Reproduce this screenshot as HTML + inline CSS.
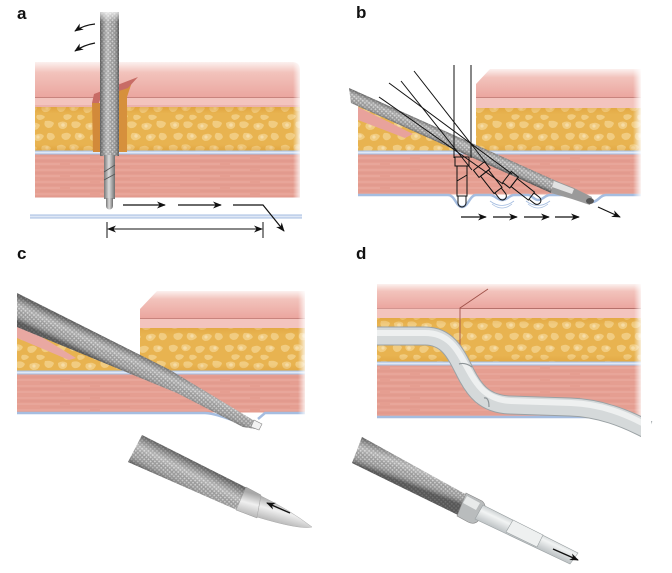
<!DOCTYPE html>
<html><head><meta charset="utf-8"><style>
html,body{margin:0;padding:0;background:#fff;}
svg{display:block;}
text{font-family:"Liberation Sans",Arial,sans-serif;font-weight:bold;fill:#111;}
</style></head><body>
<svg width="672" height="573" viewBox="0 0 672 573" xmlns="http://www.w3.org/2000/svg">
<defs>
<pattern id="fat" width="56" height="40" patternUnits="userSpaceOnUse">
<rect width="56" height="40" fill="#e8b350"/>
<g fill="#f2cf86" opacity="0.9">
<path d="M2,3 Q7,0 11,3 Q12,8 7,9 Q2,9 2,3Z"/>
<path d="M16,2 Q22,0 25,4 Q23,9 18,8 Q14,6 16,2Z"/>
<path d="M30,4 Q36,1 40,5 Q39,10 33,10 Q28,8 30,4Z"/>
<path d="M45,1 Q51,0 54,3 Q53,8 48,8 Q43,6 45,1Z"/>
<path d="M6,14 Q12,11 15,15 Q14,20 9,20 Q4,18 6,14Z"/>
<path d="M20,13 Q27,12 29,17 Q26,21 21,20 Q17,17 20,13Z"/>
<path d="M35,15 Q41,12 44,16 Q42,21 37,21 Q32,19 35,15Z"/>
<path d="M48,13 Q54,12 55,17 Q53,21 49,20 Q45,17 48,13Z"/>
<path d="M1,26 Q6,23 10,27 Q9,32 4,32 Q0,30 1,26Z"/>
<path d="M14,25 Q20,23 23,27 Q21,32 16,31 Q12,29 14,25Z"/>
<path d="M28,27 Q34,24 37,28 Q35,33 30,33 Q26,31 28,27Z"/>
<path d="M42,26 Q48,24 51,28 Q49,33 44,32 Q40,30 42,26Z"/>
<path d="M8,35 Q13,33 16,36 Q14,40 10,40 Q6,38 8,35Z"/>
<path d="M22,35 Q27,34 29,37 Q27,40 23,40 Q20,38 22,35Z"/>
<path d="M37,35 Q43,34 45,37 Q43,40 39,40 Q35,38 37,35Z"/>
</g>
<g fill="#f8e0ae" opacity="0.8"><circle cx="7" cy="5" r="1.8"/><circle cx="24" cy="16" r="1.7"/><circle cx="17" cy="28" r="1.8"/><circle cx="38" cy="17" r="1.6"/><circle cx="47" cy="28" r="1.6"/><circle cx="34" cy="6" r="1.6"/></g>
</pattern>
<pattern id="mus" width="160" height="12" patternUnits="userSpaceOnUse">
<rect width="160" height="12" fill="#e59e91"/>
<path d="M0,2 H90 M100,2 H160" stroke="#ebaca1" stroke-width="1"/>
<path d="M20,5 H150" stroke="#de9488" stroke-width="0.7"/>
<path d="M0,8 H60 M70,8 H160" stroke="#ecafa4" stroke-width="1"/>
<path d="M40,11 H130" stroke="#df968a" stroke-width="0.7"/>
</pattern>
<pattern id="kn" width="3" height="3" patternUnits="userSpaceOnUse" patternTransform="rotate(45)">
<rect width="3" height="3" fill="#8e8e8e"/><rect width="1.6" height="1.6" fill="#cbcbcb"/>
</pattern>
<linearGradient id="skin" x1="0" y1="0" x2="0" y2="1">
<stop offset="0" stop-color="#fcf1ef"/><stop offset="0.3" stop-color="#f2c3bc"/><stop offset="1" stop-color="#eba69f"/>
</linearGradient>
<linearGradient id="fadeR" x1="0" y1="0" x2="1" y2="0">
<stop offset="0" stop-color="#fff" stop-opacity="0"/><stop offset="1" stop-color="#fff" stop-opacity="1"/>
</linearGradient>
<linearGradient id="fadeT" x1="0" y1="0" x2="0" y2="1">
<stop offset="0" stop-color="#fff" stop-opacity="1"/><stop offset="1" stop-color="#fff" stop-opacity="0"/>
</linearGradient>
<linearGradient id="fatEdge" x1="0" y1="0" x2="0" y2="1">
<stop offset="0" stop-color="#d8952e" stop-opacity="0.45"/><stop offset="0.15" stop-color="#d8952e" stop-opacity="0"/><stop offset="0.85" stop-color="#d8952e" stop-opacity="0"/><stop offset="1" stop-color="#d8952e" stop-opacity="0.45"/>
</linearGradient>
<linearGradient id="shA" gradientUnits="userSpaceOnUse" x1="100" y1="0" x2="119" y2="0">
<stop offset="0" stop-color="#333" stop-opacity="0.55"/><stop offset="0.4" stop-color="#fff" stop-opacity="0.35"/><stop offset="0.6" stop-color="#fff" stop-opacity="0.1"/><stop offset="1" stop-color="#333" stop-opacity="0.6"/>
</linearGradient>
<linearGradient id="shB" gradientUnits="userSpaceOnUse" x1="349" y1="88" x2="343.3" y2="101">
<stop offset="0" stop-color="#333" stop-opacity="0.5"/><stop offset="0.4" stop-color="#fff" stop-opacity="0.3"/><stop offset="0.6" stop-color="#fff" stop-opacity="0.1"/><stop offset="1" stop-color="#333" stop-opacity="0.6"/>
</linearGradient>
<linearGradient id="shC" gradientUnits="userSpaceOnUse" x1="100" y1="335" x2="90" y2="356">
<stop offset="0" stop-color="#333" stop-opacity="0.5"/><stop offset="0.4" stop-color="#fff" stop-opacity="0.3"/><stop offset="0.6" stop-color="#fff" stop-opacity="0.1"/><stop offset="1" stop-color="#333" stop-opacity="0.6"/>
</linearGradient>
<linearGradient id="shC2" gradientUnits="userSpaceOnUse" x1="142" y1="435" x2="128" y2="462">
<stop offset="0" stop-color="#333" stop-opacity="0.5"/><stop offset="0.4" stop-color="#fff" stop-opacity="0.35"/><stop offset="0.6" stop-color="#fff" stop-opacity="0.1"/><stop offset="1" stop-color="#333" stop-opacity="0.6"/>
</linearGradient>
<linearGradient id="shD2" gradientUnits="userSpaceOnUse" x1="362" y1="437" x2="352" y2="463">
<stop offset="0" stop-color="#333" stop-opacity="0.5"/><stop offset="0.4" stop-color="#fff" stop-opacity="0.35"/><stop offset="0.6" stop-color="#fff" stop-opacity="0.1"/><stop offset="1" stop-color="#333" stop-opacity="0.6"/>
</linearGradient>
<linearGradient id="metalH" x1="0" y1="0" x2="1" y2="0">
<stop offset="0" stop-color="#777"/><stop offset="0.45" stop-color="#dcdcdc"/><stop offset="1" stop-color="#6f6f6f"/>
</linearGradient>
<linearGradient id="coneC" gradientUnits="userSpaceOnUse" x1="262" y1="496" x2="256" y2="518">
<stop offset="0" stop-color="#a8a8a8"/><stop offset="0.45" stop-color="#f0f0f0"/><stop offset="1" stop-color="#b5b5b5"/>
</linearGradient>
<linearGradient id="tubeD" gradientUnits="userSpaceOnUse" x1="485" y1="505" x2="478" y2="520">
<stop offset="0" stop-color="#c5cacc"/><stop offset="0.4" stop-color="#f2f4f4"/><stop offset="1" stop-color="#c0c5c7"/>
</linearGradient>
<marker id="ah" viewBox="0 0 10 10" refX="9" refY="5" markerWidth="9" markerHeight="9" orient="auto-start-reverse" markerUnits="userSpaceOnUse">
<path d="M0,1 L10,5 L0,9 L3,5Z" fill="#111"/>
</marker>
</defs>

<!-- ============ PANEL A ============ -->
<text x="17" y="19" font-size="17">a</text>
<path d="M35,97 V62 H292 Q300,62 300,70 V97 Z" fill="url(#skin)"/>
<rect x="35" y="97" width="265" height="10" fill="#f3c4be"/>
<line x1="35" y1="97.5" x2="300" y2="97.5" stroke="#c8847e" stroke-width="1"/>
<line x1="35" y1="106" x2="300" y2="106" stroke="#e4a099" stroke-width="1"/>
<rect x="35" y="107" width="265" height="44" fill="url(#fat)"/>
<rect x="35" y="107" width="265" height="44" fill="url(#fatEdge)"/>
<rect x="35" y="151" width="265" height="3" fill="#dfe8f6"/>
<line x1="35" y1="151" x2="300" y2="151" stroke="#a5bde0" stroke-width="1"/>
<line x1="35" y1="154" x2="300" y2="154" stroke="#a5bde0" stroke-width="1"/>
<rect x="35" y="154.5" width="265" height="43" fill="url(#mus)"/>
<rect x="30" y="215" width="272" height="3" fill="#dfe8f6"/>
<line x1="30" y1="215" x2="302" y2="215" stroke="#a5bde0" stroke-width="1"/>
<line x1="30" y1="218" x2="302" y2="218" stroke="#a5bde0" stroke-width="1"/>
<rect x="293" y="60" width="9" height="140" fill="url(#fadeR)"/>
<!-- incision channel -->
<polygon points="92,103 100,103 100,152 93,152" fill="#d28a3a"/>
<polygon points="119,90 132,82 127,97 127,152 119,152" fill="#d6903c"/>
<polygon points="92,103 94,94 138,77 128,88 101,97 99,103" fill="#c86c66"/>
<!-- instrument a -->
<rect x="100" y="12" width="19" height="144" fill="url(#kn)"/>
<rect x="100" y="12" width="19" height="144" fill="url(#shA)"/>
<rect x="98" y="8" width="23" height="14" fill="url(#fadeT)"/>
<rect x="104" y="155" width="11" height="44" fill="url(#metalH)"/>
<path d="M104,172 L115,165 M104,180 L115,174" stroke="#555" stroke-width="0.8" fill="none"/>
<path d="M106,198 H113 V206 A3.5,3.5 0 0 1 106,206 Z" fill="url(#metalH)"/>
<!-- arrows a -->
<path d="M95,24 Q84,25 75,31" stroke="#111" stroke-width="1.2" fill="none" marker-end="url(#ah)"/>
<path d="M95,43 Q84,45 75,51" stroke="#111" stroke-width="1.2" fill="none" marker-end="url(#ah)"/>
<line x1="123" y1="205" x2="165" y2="205" stroke="#111" stroke-width="1.2" marker-end="url(#ah)"/>
<line x1="178" y1="205" x2="221" y2="205" stroke="#111" stroke-width="1.2" marker-end="url(#ah)"/>
<path d="M233,205 H263 L284,231" stroke="#111" stroke-width="1.2" fill="none" marker-end="url(#ah)"/>
<line x1="107" y1="222" x2="107" y2="238" stroke="#111" stroke-width="1"/>
<line x1="263" y1="222" x2="263" y2="238" stroke="#111" stroke-width="1"/>
<line x1="108" y1="229" x2="262" y2="229" stroke="#111" stroke-width="1.1" marker-start="url(#ah)" marker-end="url(#ah)"/>

<!-- ============ PANEL B ============ -->
<text x="356" y="18" font-size="17">b</text>
<polygon points="476,97 476,84 490,69 641,69 641,97" fill="url(#skin)"/>
<rect x="476" y="97" width="165" height="11" fill="#f3c4be"/>
<line x1="476" y1="97.5" x2="641" y2="97.5" stroke="#c8847e" stroke-width="1"/>
<rect x="476" y="108" width="165" height="43" fill="url(#fat)"/>
<rect x="476" y="108" width="165" height="43" fill="url(#fatEdge)" opacity="0.7"/>
<polygon points="358,105 458,151 358,151" fill="url(#fat)"/>
<polygon points="358,107 413,134 405,138 358,120" fill="#e8a29c"/>
<rect x="358" y="151" width="283" height="3" fill="#dfe8f6"/>
<line x1="358" y1="151" x2="641" y2="151" stroke="#a5bde0" stroke-width="1"/>
<line x1="358" y1="154" x2="641" y2="154" stroke="#a5bde0" stroke-width="1"/>
<rect x="358" y="154.5" width="283" height="40" fill="url(#mus)"/>
<path d="M358,195 L448,195 C455,195 456,207 462,207 C468,207 470,195 476,195 L490,195 C495,195 497,200 502,200 C507,200 510,195 514,195 L528,195 C532,195 534,200 538,200 C543,200 545,195 550,195 L578,195 C584,195 586,202 592,202 C598,202 600,195 606,195 L641,195" stroke="#a5bde0" stroke-width="2.5" fill="none"/>
<path d="M490,201 Q502,210 514,201 M492,204 Q502,212 512,204 M526,201 Q538,210 550,201 M528,204 Q538,212 548,204" stroke="#a5bde0" stroke-width="0.8" fill="none"/>
<rect x="633" y="65" width="9" height="135" fill="url(#fadeR)"/>
<!-- instrument b -->
<polygon points="349,88 554,180 551,193 351,103" fill="url(#kn)"/>
<polygon points="349,88 554,180 551,193 351,103" fill="url(#shB)"/>
<polygon points="554,180 574,188 592,197 590,205 572,199 551,193" fill="#9a9a9a"/>
<polygon points="554,181 574,189 572,194 552,187" fill="#e2e2e2"/>
<ellipse cx="590" cy="201" rx="4" ry="3" fill="#555"/>
<!-- ghost lines -->
<g stroke="#111" stroke-width="1" fill="none">
<line x1="454" y1="65" x2="454" y2="158"/>
<line x1="471" y1="65" x2="471" y2="158"/>
<line x1="414" y1="71" x2="486" y2="163"/>
<line x1="401" y1="81" x2="472" y2="170"/>
<line x1="389" y1="83" x2="512" y2="174"/>
<line x1="379" y1="97" x2="503" y2="184"/>
<g transform="translate(462,157)">
<rect x="-7" y="0" width="14" height="9"/>
<rect x="-5" y="9" width="10" height="30"/>
<path d="M-4,39 V46 A4,4 0 0 0 4,46 V39"/>
<path d="M-5,24 L5,18"/>
</g>
<g transform="translate(479,166) rotate(-38)">
<rect x="-7" y="0" width="14" height="9"/>
<rect x="-5" y="9" width="10" height="22"/>
<path d="M-4,31 V38 A4,4 0 0 0 4,38 V31"/>
</g>
<g transform="translate(507,177) rotate(-52)">
<rect x="-7" y="0" width="14" height="9"/>
<rect x="-5" y="9" width="10" height="22"/>
<path d="M-4,31 V38 A4,4 0 0 0 4,38 V31"/>
</g>
</g>
<!-- arrows b -->
<line x1="461" y1="217" x2="486" y2="217" stroke="#111" stroke-width="1.2" marker-end="url(#ah)"/>
<line x1="493" y1="217" x2="517" y2="217" stroke="#111" stroke-width="1.2" marker-end="url(#ah)"/>
<line x1="524" y1="217" x2="549" y2="217" stroke="#111" stroke-width="1.2" marker-end="url(#ah)"/>
<line x1="555" y1="217" x2="579" y2="217" stroke="#111" stroke-width="1.2" marker-end="url(#ah)"/>
<line x1="598" y1="207" x2="620" y2="217" stroke="#111" stroke-width="1.2" marker-end="url(#ah)"/>

<!-- ============ PANEL C ============ -->
<text x="17" y="259" font-size="17">c</text>
<polygon points="140,318 140,309 157,291 305,291 305,318" fill="url(#skin)"/>
<rect x="140" y="318" width="165" height="10" fill="#f3c4be"/>
<line x1="140" y1="318.5" x2="305" y2="318.5" stroke="#c8847e" stroke-width="1"/>
<rect x="140" y="328" width="165" height="43" fill="url(#fat)"/>
<rect x="140" y="328" width="165" height="43" fill="url(#fatEdge)" opacity="0.7"/>
<polygon points="17,328 160,371 17,371" fill="url(#fat)"/>
<polygon points="17,322 76,358 69,360 17,338" fill="#e9a8a2"/>
<rect x="17" y="371" width="288" height="3" fill="#dfe8f6"/>
<line x1="17" y1="371" x2="305" y2="371" stroke="#a5bde0" stroke-width="1"/>
<line x1="17" y1="374" x2="305" y2="374" stroke="#a5bde0" stroke-width="1"/>
<rect x="17" y="374.5" width="288" height="38" fill="url(#mus)"/>
<path d="M17,413 L205,413 C220,414 232,421 248,425 M258,419 L265,413 L305,413" stroke="#a5bde0" stroke-width="2.5" fill="none"/>
<rect x="298" y="288" width="9" height="128" fill="url(#fadeR)"/>
<!-- instrument c -->
<polygon points="17,293 170,370 253,420 259,424 256,429 243,427 177,393 17,327" fill="url(#kn)"/>
<polygon points="17,293 170,370 253,420 259,424 256,429 243,427 177,393 17,327" fill="url(#shC)"/>
<polygon points="254,420 262,424 259,430 251,427" fill="#f2f2f2" stroke="#888" stroke-width="0.6"/>
<!-- lower instrument c -->
<polygon points="142,435 247,488 237,510 128,462" fill="url(#kn)"/>
<polygon points="142,435 247,488 237,510 128,462" fill="url(#shC2)"/>
<polygon points="246,487 261,495 257,518 236,510" fill="url(#coneC)" stroke="#999" stroke-width="0.5"/>
<path d="M261,496 Q290,510 312,527 Q300,530 257,517 Z" fill="url(#coneC)" stroke="#aaa" stroke-width="0.5"/>
<line x1="290" y1="513" x2="267" y2="503" stroke="#111" stroke-width="1.4" marker-end="url(#ah)"/>

<!-- ============ PANEL D ============ -->
<text x="356" y="259" font-size="17">d</text>
<rect x="377" y="284" width="264" height="24" fill="url(#skin)"/>
<rect x="377" y="308" width="264" height="10" fill="#f3c4be"/>
<line x1="377" y1="308.5" x2="641" y2="308.5" stroke="#d39590" stroke-width="1"/>
<line x1="460" y1="308.5" x2="641" y2="308.5" stroke="#b5716b" stroke-width="1"/>
<rect x="377" y="318" width="264" height="44" fill="url(#fat)"/>
<rect x="377" y="318" width="264" height="44" fill="url(#fatEdge)" opacity="0.7"/>
<rect x="377" y="362" width="264" height="3" fill="#dfe8f6"/>
<line x1="377" y1="362" x2="641" y2="362" stroke="#a5bde0" stroke-width="1"/>
<line x1="377" y1="365" x2="641" y2="365" stroke="#a5bde0" stroke-width="1"/>
<rect x="377" y="365.5" width="264" height="51" fill="url(#mus)"/>
<line x1="377" y1="417" x2="641" y2="417" stroke="#a5bde0" stroke-width="2.5"/>
<rect x="634" y="282" width="9" height="140" fill="url(#fadeR)"/>
<path d="M460,357 V308 L488,289" stroke="#a0524a" stroke-width="0.9" fill="none"/>
<!-- tube -->
<g fill="none" stroke-linecap="butt">
<path d="M377,336 L425,336 C447,336 455,352 465,372 C474,390 484,404 510,405 L570,407 C600,408 625,418 648,430" stroke="#9ba2a5" stroke-width="19"/>
<path d="M377,336 L425,336 C447,336 455,352 465,372 C474,390 484,404 510,405 L570,407 C600,408 625,418 648,430" stroke="#d5d9da" stroke-width="17"/>
<path d="M377,333 L425,333 C449,333 457,349 468,369 C477,386 487,400 511,401 L571,403 C601,404 626,414 648,426" stroke="#eef0f0" stroke-width="6"/>
<path d="M459,364 Q465,362 472,367 M484,398 Q489,397 489,407" stroke="#8d9497" stroke-width="1.2"/>
</g>
<rect x="641" y="410" width="10" height="35" fill="#fff"/>
<!-- lower instrument d -->
<polygon points="362,437 467,495 458,515 352,463" fill="url(#kn)"/>
<polygon points="362,437 467,495 458,515 352,463" fill="url(#shD2)"/>
<path d="M466,493 L482,501 Q487,505 484,512 L478,521 Q474,525 468,522 L457,516 Z" fill="#b9bcbd" stroke="#888" stroke-width="0.6"/>
<path d="M467,496 L480,503 L476,510 L463,503 Z" fill="#e8eaea"/>
<polygon points="483,505 578,553 570,564 475,519" fill="url(#tubeD)" stroke="#9aa0a2" stroke-width="0.6"/>
<polygon points="513,520 543,535 537,547 506,532" fill="#eef0f0" stroke="#9aa0a2" stroke-width="0.6"/>
<line x1="553" y1="549" x2="578" y2="560" stroke="#111" stroke-width="1.4" marker-end="url(#ah)"/>
</svg>
</body></html>
